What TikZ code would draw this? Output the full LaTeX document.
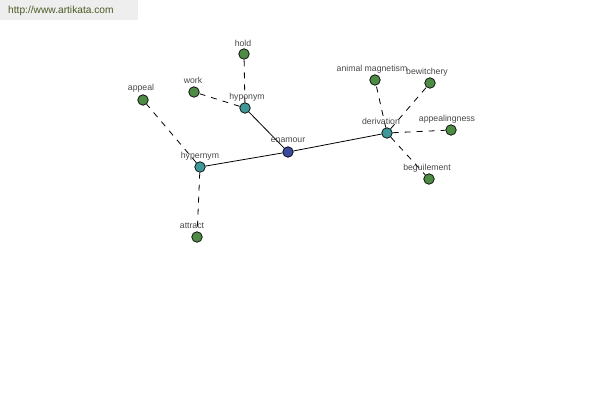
\documentclass[tikz,border=0pt]{standalone}
\usepackage{fontspec}
\setmainfont{Liberation Sans}
\begin{document}
\begin{tikzpicture}[x=1pt,y=-1pt,
  vtx/.style={circle,draw=black,line width=0.7pt,minimum size=10.5pt,inner sep=0pt},
  leaf/.style={vtx,fill=leafgreen},
  mid/.style={vtx,fill=midteal},
  root/.style={vtx,fill=rootblue},
  lbl/.style={inner sep=0pt,text=labelgray,font=\fontsize{8.7}{9}\selectfont},
  solidedge/.style={draw=black,line width=0.8pt},
  dashedge/.style={draw=black,line width=0.8pt,dash pattern=on 6pt off 6pt}]
\definecolor{leafgreen}{HTML}{4E8C46}
\definecolor{midteal}{HTML}{3E9898}
\definecolor{rootblue}{HTML}{3A4A9C}
\definecolor{labelgray}{HTML}{484848}
\definecolor{headgray}{HTML}{EEEEEE}
\definecolor{headtext}{HTML}{4A5A22}
\useasboundingbox (0,0) rectangle (600,400);
\fill[white] (0,0) rectangle (600,400);
\fill[headgray] (0,0) rectangle (138,20);
\node[inner sep=0pt,anchor=west,text=headtext,font=\fontsize{10.2}{12}\selectfont] (url) at (8,11) {http://www.artikata.com};
% nodes
\node[root] (enamour) at (288,152) {};
\node[mid] (hyponym) at (245,108) {};
\node[mid] (hypernym) at (200,167) {};
\node[mid] (derivation) at (387,133) {};
\node[leaf] (hold) at (244,54) {};
\node[leaf] (work) at (194,92) {};
\node[leaf] (appeal) at (143,100) {};
\node[leaf] (attract) at (197,237) {};
\node[leaf] (animal) at (375,80) {};
\node[leaf] (bewitchery) at (430,83) {};
\node[leaf] (appealingness) at (451,130) {};
\node[leaf] (beguilement) at (429,179) {};
% edges
\path[solidedge] (enamour) -- (hyponym);
\path[solidedge] (enamour) -- (hypernym);
\path[solidedge] (enamour) -- (derivation);
\path[dashedge] (hyponym) -- (hold);
\path[dashedge] (hyponym) -- (work);
\path[dashedge] (hypernym) -- (appeal);
\path[dashedge] (hypernym) -- (attract);
\path[dashedge] (derivation) -- (animal);
\path[dashedge] (derivation) -- (bewitchery);
\path[dashedge] (derivation) -- (appealingness);
\path[dashedge] (derivation) -- (beguilement);
% labels
\node[lbl] (l-enamour) at (288,140) {enamour};
\node[lbl] (l-hyponym) at (247,97) {hyponym};
\node[lbl] (l-hypernym) at (200,156) {hypernym};
\node[lbl] (l-derivation) at (381,121) {derivation};
\node[lbl] (l-hold) at (243,43) {hold};
\node[lbl] (l-work) at (193,80) {work};
\node[lbl] (l-appeal) at (141,88) {appeal};
\node[lbl] (l-attract) at (192,226) {attract};
\node[lbl] (l-animal) at (372,69) {animal magnetism};
\node[lbl] (l-bewitchery) at (427,72) {bewitchery};
\node[lbl] (l-appealingness) at (447,119) {appealingness};
\node[lbl] (l-beguilement) at (427,168) {beguilement};
\end{tikzpicture}
\end{document}
